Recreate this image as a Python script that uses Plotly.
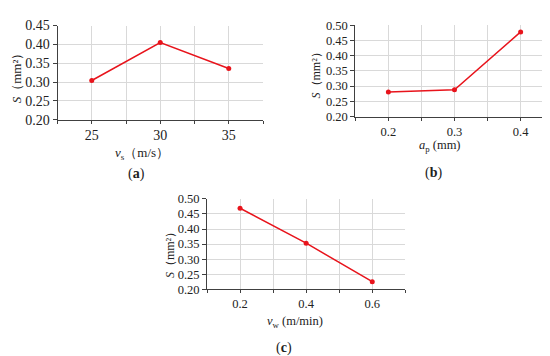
import plotly.graph_objects as go

# Data
vs_vals = [25, 30, 35]
S_a = [0.304, 0.405, 0.336]
ap_vals = [0.2, 0.3, 0.4]
S_b = [0.281, 0.288, 0.478]
vw_vals = [0.2, 0.4, 0.6]
S_c = [0.469, 0.353, 0.225]

y_ticks_a = [0.20, 0.25, 0.30, 0.35, 0.40, 0.45]
y_ticks_bc = [0.20, 0.25, 0.30, 0.35, 0.40, 0.45, 0.50]

W, H = 550, 356
RED = "#e8141c"
GRID = "#d9d9d9"
AX = "#404040"
FONT = "Liberation Serif"

def px(x):
    return x / W

def py(y):
    return 1 - y / H

fig = go.Figure()
fig.add_trace(go.Scatter(x=vs_vals, y=S_a, mode="lines+markers", xaxis="x", yaxis="y",
                         line=dict(color=RED, width=1.5), marker=dict(color=RED, size=5)))
fig.add_trace(go.Scatter(x=ap_vals, y=S_b, mode="lines+markers", xaxis="x2", yaxis="y2",
                         line=dict(color=RED, width=1.5), marker=dict(color=RED, size=5)))
fig.add_trace(go.Scatter(x=vw_vals, y=S_c, mode="lines+markers", xaxis="x3", yaxis="y3",
                         line=dict(color=RED, width=1.5), marker=dict(color=RED, size=5)))

def xaxis(dom, anchor, rng, tickvals, fmt, mdt, mt0, fs):
    return dict(domain=dom, anchor=anchor, range=rng, tickvals=tickvals,
                ticktext=[fmt.format(v) for v in tickvals],
                showgrid=True, gridcolor=GRID, gridwidth=1,
                showline=True, linecolor=AX, linewidth=1, zeroline=False,
                ticks="outside", ticklen=3, tickcolor=AX,
                tickfont=dict(family=FONT, size=fs, color="#222"),
                minor=dict(dtick=mdt, tick0=mt0, showgrid=True, gridcolor=GRID,
                           ticks="outside", ticklen=3, tickcolor=AX),
                fixedrange=True)

def yaxis(dom, anchor, rng, tickvals, fs):
    return dict(domain=dom, anchor=anchor, range=rng, tickvals=tickvals,
                ticktext=["{:.2f}".format(v) for v in tickvals],
                showgrid=True, gridcolor=GRID, gridwidth=1,
                showline=True, linecolor=AX, linewidth=1, zeroline=False,
                ticks="outside", ticklen=4, tickcolor=AX,
                tickfont=dict(family=FONT, size=fs, color="#222"),
                fixedrange=True)

fig.update_layout(
    width=W, height=H, margin=dict(l=0, r=0, t=0, b=0),
    paper_bgcolor="white", plot_bgcolor="white", showlegend=False,
    font=dict(family=FONT, size=12, color="#222"),
    xaxis=xaxis([px(49.5), px(255)], "y", [22.5, 37.5], vs_vals, "{:d}", 2.5, 22.5, 14),
    yaxis=yaxis([py(109.3), py(11)], "x", [0.2, 0.45], y_ticks_a, 14),
    xaxis2=xaxis([px(347.3), px(545.7)], "y2", [0.15, 0.45], ap_vals, "{:.1f}", 0.05, 0.15, 12.5),
    yaxis2=yaxis([py(106), py(10.7)], "x2", [0.2, 0.5], y_ticks_bc, 12.5),
    xaxis3=xaxis([px(199), px(397.3)], "y3", [0.1, 0.7], vw_vals, "{:.1f}", 0.1, 0.1, 12.5),
    yaxis3=yaxis([py(286.3), py(192)], "x3", [0.2, 0.5], y_ticks_bc, 12.5),
)

def ann(text, x, y, size, angle=0):
    fig.add_annotation(text=text, x=px(x), y=py(y), xref="paper", yref="paper",
                       showarrow=False, textangle=angle, xanchor="center", yanchor="middle",
                       font=dict(family=FONT, size=size, color="#222"))

# y titles
ann("<i>S</i>（mm²）", 8, 63, 13, -90)
ann("<i>S</i>（mm²）", 308, 60, 12, -90)
ann("<i>S</i>（mm²）", 161.5, 248, 12, -90)
# x titles
ann("<i>v</i><sub>s</sub>（m/s）", 134, 145, 13)
ann("<i>a</i><sub>p</sub> (mm)", 431.5, 137, 12.5)
ann("<i>v</i><sub>w</sub> (m/min)", 287, 320, 12.5)
# panel labels
ann("(<b>a</b>)", 128, 166, 14)
ann("(<b>b</b>)", 425, 165, 14)
ann("(<b>c</b>)", 276, 348, 14)

fig.write_html("out.html")
